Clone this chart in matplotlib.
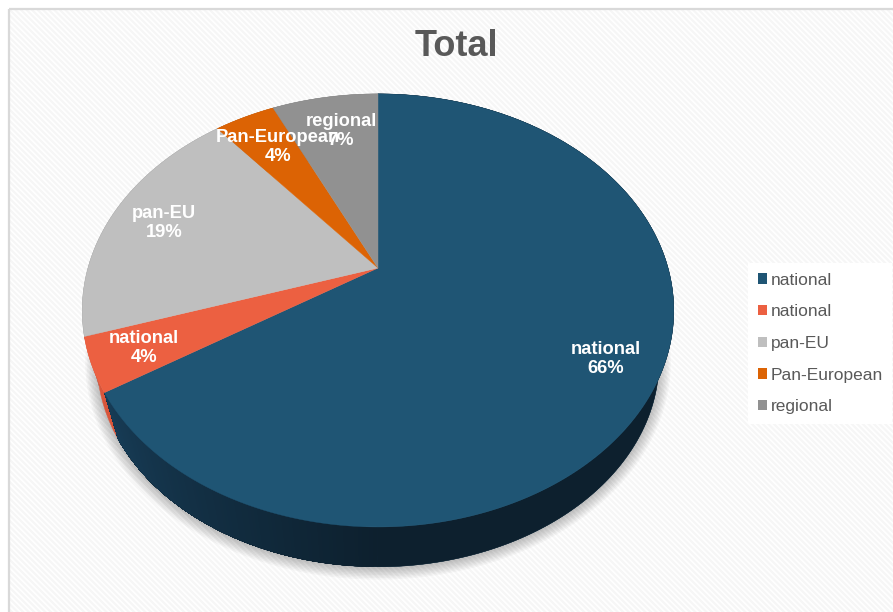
import numpy as np
import matplotlib
matplotlib.use('Agg')
import matplotlib.pyplot as plt
from matplotlib.patches import Rectangle, Patch

plt.rcParams['font.family'] = ['Liberation Sans', 'DejaVu Sans']
plt.rcParams['hatch.linewidth'] = 1.6

title = 'Total'
names = ['national', 'national', 'pan-EU', 'Pan-European', 'regional']
shares = [66, 4, 19, 4, 7]
colors = ['#1f5574', '#ec6041', '#bfbfbf', '#dc6304', '#919191']
wall_colors = ['#12344b', '#d9553a', '#8f8f8f', '#a84b03', '#6d6d6d']

# pie geometry in pixels
apex_x, apex_y = 378, 268
focal, lift, persp = 290, 208.2, 0.196
floor_scale, floor_apex_y = 0.95, 320.8


def project(angle, scale=1.0, cy=apex_y):
	# angle is clockwise from 12 o'clock, tilted disc seen in perspective
	u = np.sin(angle); v = np.cos(angle)
	d = 1 + persp * v
	return apex_x + scale * focal * u / d, cy - scale * lift * v / d


def lerp_color(a, b, t):
	a = np.array(matplotlib.colors.to_rgb(a)); b = np.array(matplotlib.colors.to_rgb(b))
	return tuple(a + (b - a) * t)


fig = plt.figure(figsize=(8.93, 6.12), dpi=100, facecolor='white')
ax = fig.add_axes([0, 0, 1, 1])
ax.set_xlim(0, 893); ax.set_ylim(612, 0)
ax.axis('off')

# striped panel with a grey frame, runs off the right and bottom
ax.add_patch(Rectangle((9, 9), 900, 620, facecolor='white', edgecolor='#f6f6f6',
	hatch='\\\\\\\\\\\\', lw=0, zorder=0))
ax.add_patch(Rectangle((9, 9), 900, 620, fill=False, edgecolor='#d9d9d9', lw=1.6, zorder=0.5))

# soft shadow under the disc
full = np.linspace(0, 2 * np.pi, 361)
sx, sy = project(full, floor_scale, floor_apex_y + 1)
for lw in np.arange(17, 1, -2.2):
	ax.plot(sx, sy, color='black', alpha=0.03, lw=lw, solid_capstyle='round', zorder=1)

edges = 2 * np.pi * np.cumsum([0] + shares) / sum(shares)

# side wall, slice by slice from the back so the big slice ends up on top
for i in [4, 3, 2, 1, 0]:
	a = np.linspace(edges[i], edges[i + 1], int(shares[i] * 6) + 2)
	x1, y1 = project(a)
	x2, y2 = project(a, floor_scale, floor_apex_y)
	ax.fill(np.r_[x1, x2[::-1]], np.r_[y1, y2[::-1]], color=wall_colors[i], lw=0.3, zorder=2)
	if i == 0:
		# wall gets lighter from the front round to the far left, strips overlap to avoid seams
		b = a[a > np.pi]
		for j in range(len(b) - 1):
			t = (np.degrees(b[j]) - 180) / 57.6
			xa, ya = project(b[j:]) if j == 0 else project(b[j:])
			xb, yb = project(b[j:], floor_scale, floor_apex_y)
			ax.fill(np.r_[xa, xb[::-1]], np.r_[ya, yb[::-1]], color=lerp_color('#0d202e', '#173c56', t),
				lw=0, zorder=2.1)
		front = a[a <= np.pi + 0.01]
		xa, ya = project(front)
		xb, yb = project(front, floor_scale, floor_apex_y)
		ax.fill(np.r_[xa, xb[::-1]], np.r_[ya, yb[::-1]], color='#0d202e', lw=0.3, zorder=2.1)

# top face
for i in range(len(shares)):
	a = np.linspace(edges[i], edges[i + 1], int(shares[i] * 6) + 2)
	x, y = project(a)
	ax.fill(np.r_[apex_x, x], np.r_[apex_y, y], color=colors[i], lw=0.3, zorder=3)

# data labels
label_xy = [(606, 359), (144, 348), (164, 223), (278, 147), (341, 131)]
for i in range(len(names)):
	ax.text(label_xy[i][0], label_xy[i][1], '%s\n%d%%' % (names[i], shares[i]), color='white',
		fontsize=13.2, fontweight='bold', ha='center', va='center', linespacing=1.13, zorder=5)

ax.text(456, 46, title, color='#595959', fontsize=26, fontweight='bold',
	ha='center', va='center', zorder=5)

handles = [Patch(facecolor=colors[i], label=names[i]) for i in range(len(names))]
leg = ax.legend(handles=handles, loc='upper left', bbox_to_anchor=(748, 263),
	bbox_transform=ax.transData, borderaxespad=0, fontsize=12.5, labelcolor='#595959',
	frameon=True, fancybox=False, framealpha=1, facecolor='white', edgecolor='none',
	handlelength=0.55, handleheight=0.55, handletextpad=0.2, labelspacing=0.96,
	borderpad=0.55)
leg.set_zorder(6)

plt.savefig('out.png', dpi=100)
